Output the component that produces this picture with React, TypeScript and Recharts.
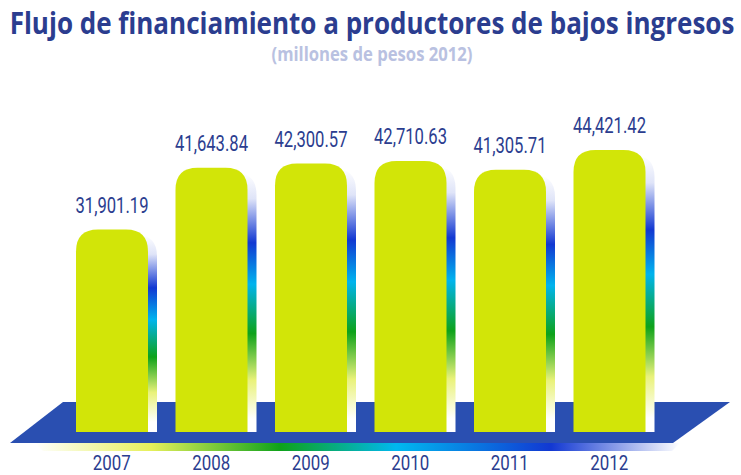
import { useLayoutEffect, useRef, useState } from "react";
import { BarChart, Bar, XAxis, YAxis, LabelList } from "recharts";

const YEARS = ["2007", "2008", "2009", "2010", "2011", "2012"];
const VALUES = [31901.19, 41643.84, 42300.57, 42710.63, 41305.71, 44421.42];

const TITLE = "Flujo de financiamiento a productores de bajos ingresos";
const SUBTITLE = "(millones de pesos 2012)";

const BAR_COLOR = "#d2e508";
const DARK_BLUE = "#2b3d8f";
const FLOOR_BLUE = "#2a4fb1";

const data = YEARS.map((year, i) => ({ year, value: VALUES[i] }));

const fmt = (v: number) =>
  v.toLocaleString("en-US", { minimumFractionDigits: 2, maximumFractionDigits: 2 });

// svg text squeezed horizontally to a given width (the source uses a condensed face)
function FitText({ x, y, width, children, ...rest }: any) {
  const ref = useRef<SVGTextElement>(null);
  const [sx, setSx] = useState(1);
  useLayoutEffect(() => {
    if (!ref.current) return;
    const w = ref.current.getComputedTextLength();
    if (w > 0) setSx(width / w);
  }, [width, children]);
  return (
    <text ref={ref} transform={`translate(${x},${y}) scale(${sx},1)`} textAnchor="middle" {...rest}>
      {children}
    </text>
  );
}

function topRounded(x: number, y: number, w: number, h: number, r: number) {
  return `M${x},${y + h} L${x},${y + r} Q${x},${y} ${x + r},${y} L${x + w - r},${y} Q${x + w},${y} ${x + w},${y + r} L${x + w},${y + h} Z`;
}

function Pillar(props: any) {
  const { x, y, width, height, index } = props;
  if (!height) return null;
  const id = `shade-${index}`;
  return (
    <g>
      <defs>
        <linearGradient id={id} x1="0" y1="0" x2="0" y2="1">
          <stop offset="0" stopColor="#ffffff" />
          <stop offset="0.1" stopColor="#dfe4f8" />
          <stop offset="0.27" stopColor="#1238d2" />
          <stop offset="0.43" stopColor="#00b4ee" />
          <stop offset="0.62" stopColor="#0ea21a" />
          <stop offset="0.8" stopColor="#e9f27a" />
          <stop offset="0.95" stopColor="#ffffff" />
        </linearGradient>
      </defs>
      <path d={topRounded(x + 9, y + 5, width, height - 5, 22)} fill={`url(#${id})`} />
      <path d={topRounded(x, y, width, height, 22)} fill={BAR_COLOR} />
    </g>
  );
}

function YearTick(props: any) {
  const { x, y, payload } = props;
  return (
    <FitText x={x} y={y + 38} width={38} fill={DARK_BLUE} fontSize={21} fontFamily="Roboto, sans-serif">
      {payload.value}
    </FitText>
  );
}

function ValueLabel(props: any) {
  const { x, y, width, value } = props;
  return (
    <FitText x={x + width / 2} y={y - 17} width={73} fill={DARK_BLUE} fontSize={22} fontFamily="Roboto, sans-serif">
      {fmt(value)}
    </FitText>
  );
}

export default function App() {
  return (
    <div style={{ position: "absolute", left: 0, top: 0, width: 741, height: 475, background: "#fff" }}>
      {/* backdrop: title + blue floor */}
      <svg width={741} height={475} style={{ position: "absolute", left: 0, top: 0 }}>
        <defs>
          <linearGradient id="floorGlow" x1="0" y1="0" x2="1" y2="0">
            <stop offset="0" stopColor="#ffffff" />
            <stop offset="0.18" stopColor="#e6f05a" />
            <stop offset="0.38" stopColor="#0ea21a" />
            <stop offset="0.56" stopColor="#00b8f0" />
            <stop offset="0.8" stopColor="#1238d2" />
            <stop offset="1" stopColor="#ffffff" />
          </linearGradient>
        </defs>
        <FitText
          x={372}
          y={34}
          width={725}
          fill={DARK_BLUE}
          fontSize={30}
          fontWeight="bold"
          fontFamily="'Open Sans', sans-serif"
        >
          {TITLE}
        </FitText>
        <FitText
          x={372}
          y={61}
          width={201}
          fill="#b9c1e1"
          fontSize={19}
          fontWeight="bold"
          fontFamily="'Open Sans', sans-serif"
        >
          {SUBTITLE}
        </FitText>
        <polygon points="35,443 680,443 672,451 43,451" fill="url(#floorGlow)" />
        <polygon points="63,402 730,402 673,443 10,443" fill={FLOOR_BLUE} />
      </svg>

      <div style={{ position: "absolute", left: 0, top: 0 }}>
        <BarChart
          width={741}
          height={475}
          data={data}
          margin={{ top: 102, right: 82, left: 62, bottom: 0 }}
        >
          <XAxis
            dataKey="year"
            axisLine={false}
            tickLine={false}
            tickSize={0}
            tickMargin={0}
            height={43}
            interval={0}
            tick={<YearTick />}
          />
          <YAxis hide domain={[0, 52000]} />
          <Bar dataKey="value" barSize={72} shape={<Pillar />} isAnimationActive={false}>
            <LabelList dataKey="value" content={<ValueLabel />} />
          </Bar>
        </BarChart>
      </div>
    </div>
  );
}
